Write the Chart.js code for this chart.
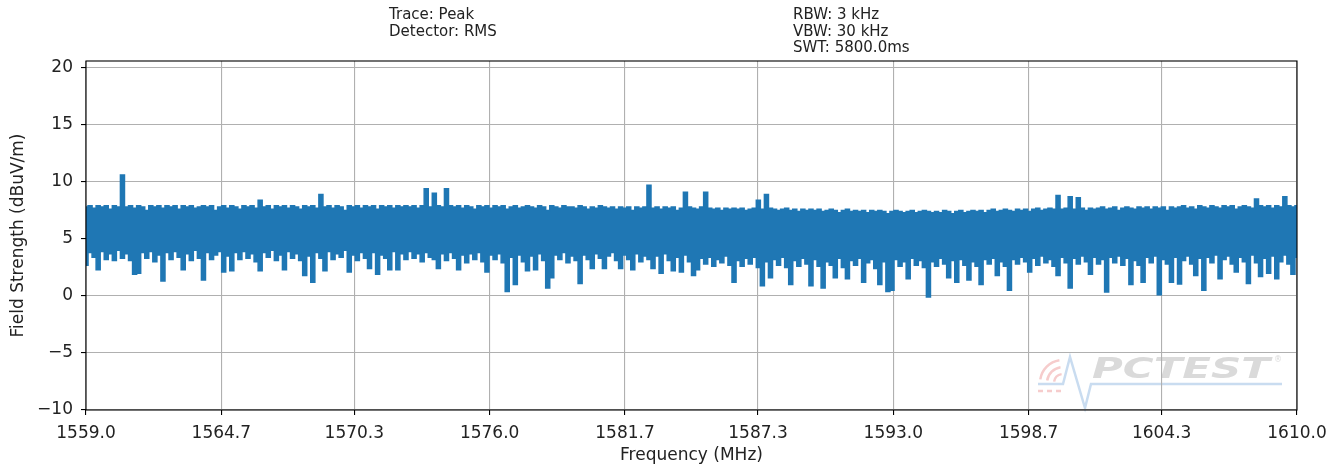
<!DOCTYPE html>
<html lang="en">
<head>
<meta charset="UTF-8">
<title>Field Strength 1559-1610 MHz</title>
<script src="https://cdn.jsdelivr.net/npm/chart.js"></script>
<style>
    html, body { margin: 0; padding: 0; background: #fff; }
    #wrap { width: 1343px; height: 467px; }
</style>
</head>
<body>
<div id="wrap"><canvas id="grafico"></canvas></div>
<script>
    // sweep settings and axis ticks
    const sweepStart = 1559.0;
    const sweepStop = 1610.0;
    const freqTicks = [1559.0, 1564.7, 1570.3, 1576.0, 1581.7, 1587.3, 1593.0, 1598.7, 1604.3, 1610.0];
    const levelTicks = [-10, -5, 0, 5, 10, 15, 20];
    const headerLeft = ['Trace: Peak', 'Detector: RMS'];
    const headerRight = ['RBW: 3 kHz', 'VBW: 30 kHz', 'SWT: 5800.0ms'];

    // top of the trace band (dBuV/m)
    const traceTop = [
        7.8, 7.9, 7.7, 7.9, 7.8, 7.9, 7.6, 7.9, 7.8, 10.6,
        7.8, 7.9, 7.7, 7.9, 7.8, 7.5, 7.9, 7.8, 7.9, 7.7,
        7.9, 7.8, 7.9, 7.6, 7.9, 7.8, 7.9, 7.7, 7.8, 7.9,
        7.8, 7.9, 7.5, 7.8, 7.9, 7.7, 7.9, 7.8, 7.6, 7.9,
        7.8, 7.9, 7.7, 8.4, 7.8, 7.9, 7.6, 7.9, 7.8, 7.9,
        7.7, 7.9, 7.8, 7.6, 7.9, 7.8, 7.9, 7.7, 8.9, 7.8,
        7.9, 7.7, 7.9, 7.8, 7.5, 7.9, 7.8, 7.9, 7.7, 7.9,
        7.8, 7.9, 7.6, 7.9, 7.8, 7.9, 7.7, 7.9, 7.8, 7.9,
        7.8, 7.9, 7.7, 7.9, 9.4, 7.8, 9.0, 7.9, 7.8, 9.4,
        7.9, 7.8, 7.9, 7.7, 7.9, 7.8, 7.6, 7.9, 7.8, 7.9,
        7.7, 7.9, 7.8, 7.9, 7.6, 7.8, 7.9, 7.7, 7.8, 7.9,
        7.8, 7.7, 7.9, 7.8, 7.5, 7.9, 7.8, 7.7, 7.9, 7.8,
        7.8, 7.7, 7.9, 7.8, 7.6, 7.8, 7.7, 7.9, 7.8, 7.7,
        7.8, 7.6, 7.8, 7.7, 7.8, 7.5, 7.8, 7.7, 7.8, 9.7,
        7.7, 7.8, 7.6, 7.8, 7.7, 7.8, 7.5, 7.7, 9.1, 7.8,
        7.7, 7.6, 7.8, 9.1, 7.7, 7.6, 7.7, 7.5, 7.7, 7.6,
        7.7, 7.6, 7.7, 7.5, 7.6, 7.7, 8.4, 7.6, 8.9, 7.7,
        7.6, 7.5, 7.6, 7.7, 7.5, 7.6, 7.4, 7.6, 7.5, 7.6,
        7.5, 7.6, 7.4, 7.5, 7.6, 7.5, 7.3, 7.5, 7.6, 7.4,
        7.5, 7.4, 7.5, 7.3, 7.5, 7.4, 7.5, 7.4, 7.2, 7.4,
        7.5, 7.4, 7.3, 7.4, 7.5, 7.3, 7.4, 7.5, 7.4, 7.3,
        7.4, 7.3, 7.5, 7.4, 7.2, 7.4, 7.5, 7.3, 7.4, 7.5,
        7.4, 7.5, 7.3, 7.5, 7.6, 7.4, 7.5, 7.6, 7.5, 7.4,
        7.6, 7.5, 7.6, 7.4, 7.6, 7.7, 7.5, 7.6, 7.7, 7.6,
        8.8, 7.6, 7.7, 8.7, 7.6, 8.6, 7.7, 7.5, 7.7, 7.6,
        7.7, 7.8, 7.6, 7.7, 7.8, 7.5, 7.7, 7.8, 7.7, 7.6,
        7.8, 7.7, 7.8, 7.6, 7.8, 7.7, 7.8, 7.5, 7.8, 7.7,
        7.8, 7.9, 7.7, 7.8, 7.6, 7.9, 7.8, 7.7, 7.9, 7.8,
        7.7, 7.9, 7.8, 7.9, 7.6, 7.8, 7.9, 7.8, 7.7, 8.5,
        7.9, 7.8, 7.9, 7.7, 7.9, 7.8, 8.7, 7.9, 7.8, 7.9
    ];

    // bottom of the trace band (dBuV/m)
    const traceBottom = [
        2.7, 3.8, 3.4, 2.3, 3.9, 3.2, 3.7, 3.1, 4.0, 3.3,
        3.7, 3.1, 1.9, 2.0, 3.8, 3.3, 3.9, 3.0, 3.6, 1.3,
        3.8, 3.2, 3.9, 3.4, 2.3, 3.7, 3.1, 4.0, 3.3, 1.4,
        3.8, 3.2, 3.6, 3.9, 2.1, 3.5, 2.2, 3.8, 3.2, 3.9,
        3.3, 3.7, 3.0, 2.2, 3.8, 3.4, 4.0, 3.1, 3.6, 2.3,
        3.9, 3.3, 3.7, 3.1, 1.8, 3.5, 1.2, 3.8, 3.3, 2.2,
        3.9, 3.2, 3.7, 3.4, 4.0, 2.1, 3.6, 3.1, 3.8, 3.3,
        2.4, 3.8, 1.9, 3.6, 3.3, 2.3, 3.9, 2.3, 3.7, 3.2,
        3.9, 3.3, 3.7, 3.0, 3.8, 3.4, 3.2, 2.4, 3.7, 3.1,
        3.8, 3.3, 2.3, 3.6, 2.9, 3.7, 3.2, 3.8, 3.0, 2.1,
        3.6, 3.2, 3.7, 2.9, 0.4, 3.4, 1.0, 3.6, 3.0, 2.2,
        3.5, 2.3, 3.7, 3.1, 0.7, 1.6, 3.6, 3.2, 3.8, 2.9,
        3.5, 3.1, 1.1, 3.6, 3.2, 2.4, 3.7, 3.3, 2.4, 3.5,
        3.8, 3.1, 2.4, 3.6, 3.2, 2.3, 3.7, 3.0, 3.5, 3.2,
        2.4, 3.5, 2.0, 3.7, 3.1, 2.2, 3.4, 2.1, 3.6, 3.0,
        1.8, 2.3, 3.3, 2.8, 3.4, 2.6, 3.2, 2.9, 3.5, 2.7,
        1.2, 3.1, 2.6, 3.3, 2.8, 3.4, 2.5, 0.9, 3.0, 1.6,
        3.2, 2.7, 3.4, 2.5, 1.0, 3.1, 2.6, 3.3, 2.8, 0.9,
        3.2, 2.6, 0.7, 3.0, 2.7, 1.6, 3.3, 2.5, 1.5, 3.1,
        2.7, 3.3, 1.2, 2.9, 3.2, 2.4, 1.0, 3.0, 0.4, 0.5,
        3.2, 2.6, 3.0, 1.5, 3.3, 2.7, 3.1, 2.5, -0.1, 3.0,
        2.6, 3.3, 2.8, 1.6, 3.1, 1.2, 3.2, 2.7, 1.4, 3.0,
        2.6, 1.0, 3.2, 2.8, 3.3, 1.8, 3.0, 2.6, 0.5, 3.2,
        2.8, 3.4, 3.0, 2.1, 3.3, 2.7, 3.5, 2.9, 3.2, 2.6,
        1.8, 3.4, 2.9, 0.7, 3.3, 2.8, 3.5, 3.0, 1.9, 3.4,
        2.8, 3.2, 0.35, 3.4, 2.9, 3.5, 2.7, 3.3, 1.0, 3.1,
        2.7, 1.2, 3.4, 2.9, 3.5, 0.1, 3.2, 2.8, 1.2, 3.4,
        1.05, 3.1, 3.5, 2.8, 1.8, 3.3, 0.5, 3.4, 2.9, 3.6,
        1.5, 3.2, 3.5, 2.8, 2.1, 3.4, 3.0, 1.1, 3.6, 2.9,
        1.7, 3.3, 2.0, 3.5, 1.5, 3.0, 3.6, 2.8, 1.9, 3.4
    ];

    const corTrace = '#1f77b4';
    const fonte = '"DejaVu Sans", sans-serif';

    // sweep points are evenly spaced between start and stop
    const passo = (sweepStop - sweepStart) / (traceTop.length - 1);
    const pontosTopo = traceTop.map((v, i) => ({ x: sweepStart + i * passo, y: v }));
    const pontosBase = traceBottom.map((v, i) => ({ x: sweepStart + i * passo, y: v }));

    function menos(v) {
        return v < 0 ? '\u2212' + Math.abs(v) : String(v);
    }

    // header texts, spines and the watermark
    const extras = {
        id: 'extras',
        beforeDraw(chart) {
            const ctx = chart.ctx;
            ctx.save();
            ctx.fillStyle = '#fff';
            ctx.fillRect(0, 0, chart.width, chart.height);

            // watermark
            ctx.lineWidth = 2.5;
            ctx.strokeStyle = '#f6cccc';
            [9, 16, 23].forEach(r => {
                ctx.beginPath();
                ctx.arc(1063, 383, r, Math.PI * 1.05, Math.PI * 1.45);
                ctx.stroke();
            });
            ctx.setLineDash([5, 4]);
            ctx.beginPath();
            ctx.moveTo(1038, 391);
            ctx.lineTo(1062, 391);
            ctx.stroke();
            ctx.setLineDash([]);
            ctx.strokeStyle = '#c9dcf0';
            ctx.lineWidth = 2.5;
            ctx.beginPath();
            ctx.moveTo(1038, 384);
            ctx.lineTo(1063, 384);
            ctx.lineTo(1070, 357);
            ctx.lineTo(1085, 408);
            ctx.lineTo(1091, 384);
            ctx.lineTo(1282, 384);
            ctx.stroke();
            ctx.fillStyle = '#dadada';
            ctx.font = 'italic bold 29px ' + fonte;
            ctx.textBaseline = 'alphabetic';
            const larg = ctx.measureText('PCTEST').width;
            ctx.save();
            ctx.translate(1092, 378);
            ctx.scale(178 / larg, 1);
            ctx.fillText('PCTEST', 0, 0);
            ctx.restore();
            ctx.font = '8px ' + fonte;
            ctx.fillText('\u00ae', 1274, 362);
            ctx.restore();
        },
        afterDatasetsDraw(chart) {
            const { ctx, chartArea: a } = chart;
            ctx.save();
            ctx.strokeStyle = '#000';
            ctx.lineWidth = 1.1;
            ctx.strokeRect(a.left, a.top, a.right - a.left, a.bottom - a.top);
            ctx.restore();
        },
        afterDraw(chart) {
            const ctx = chart.ctx;
            ctx.save();
            ctx.fillStyle = '#222';
            ctx.font = '15px ' + fonte;
            ctx.textBaseline = 'top';
            headerLeft.forEach((t, i) => ctx.fillText(t, 389, 8 + i * 16.5));
            headerRight.forEach((t, i) => ctx.fillText(t, 793, 8 + i * 16.5));
            ctx.restore();
        }
    };

    new Chart(document.getElementById('grafico'), {
        type: 'line',
        data: {
            datasets: [{
                label: 'topo',
                data: pontosTopo,
                borderColor: corTrace,
                backgroundColor: corTrace,
                borderWidth: 1.5,
                pointRadius: 0,
                stepped: 'middle',
                fill: '+1'
            }, {
                label: 'base',
                data: pontosBase,
                borderColor: corTrace,
                backgroundColor: corTrace,
                borderWidth: 1.5,
                pointRadius: 0,
                stepped: 'middle',
                fill: false
            }]
        },
        options: {
            responsive: true,
            maintainAspectRatio: false,
            animation: false,
            events: [],
            layout: { padding: { left: 0, right: 46, top: 61, bottom: 0 } },
            plugins: {
                legend: { display: false },
                tooltip: { enabled: false }
            },
            scales: {
                x: {
                    type: 'linear',
                    min: sweepStart,
                    max: sweepStop,
                    afterBuildTicks: s => { s.ticks = freqTicks.map(v => ({ value: v })); },
                    afterFit: s => { s.height = 57; },
                    border: { display: false },
                    grid: { color: '#b0b0b0', lineWidth: 1.1, tickLength: 5, tickColor: '#000', tickWidth: 1.1 },
                    ticks: {
                        color: '#222',
                        font: { family: fonte, size: 17 },
                        padding: 8,
                        maxRotation: 0,
                        autoSkip: false,
                        callback: v => v.toFixed(1)
                    },
                    title: {
                        display: true,
                        text: 'Frequency (MHz)',
                        color: '#222',
                        font: { family: fonte, size: 17 },
                        padding: { top: 0, bottom: 1 }
                    }
                },
                y: {
                    min: -10,
                    max: 20.6,
                    afterBuildTicks: s => { s.ticks = levelTicks.map(v => ({ value: v })); },
                    afterFit: s => { s.width = 86; },
                    border: { display: false },
                    grid: { color: '#b0b0b0', lineWidth: 1.1, tickLength: 5, tickColor: '#000', tickWidth: 1.1 },
                    ticks: {
                        color: '#222',
                        font: { family: fonte, size: 17 },
                        padding: 8,
                        callback: v => menos(v)
                    },
                    title: {
                        display: true,
                        text: 'Field Strength (dBuV/m)',
                        color: '#222',
                        font: { family: fonte, size: 17 },
                        padding: { top: 8, bottom: 0 }
                    }
                }
            }
        },
        plugins: [extras]
    });
</script>
</body>
</html>
